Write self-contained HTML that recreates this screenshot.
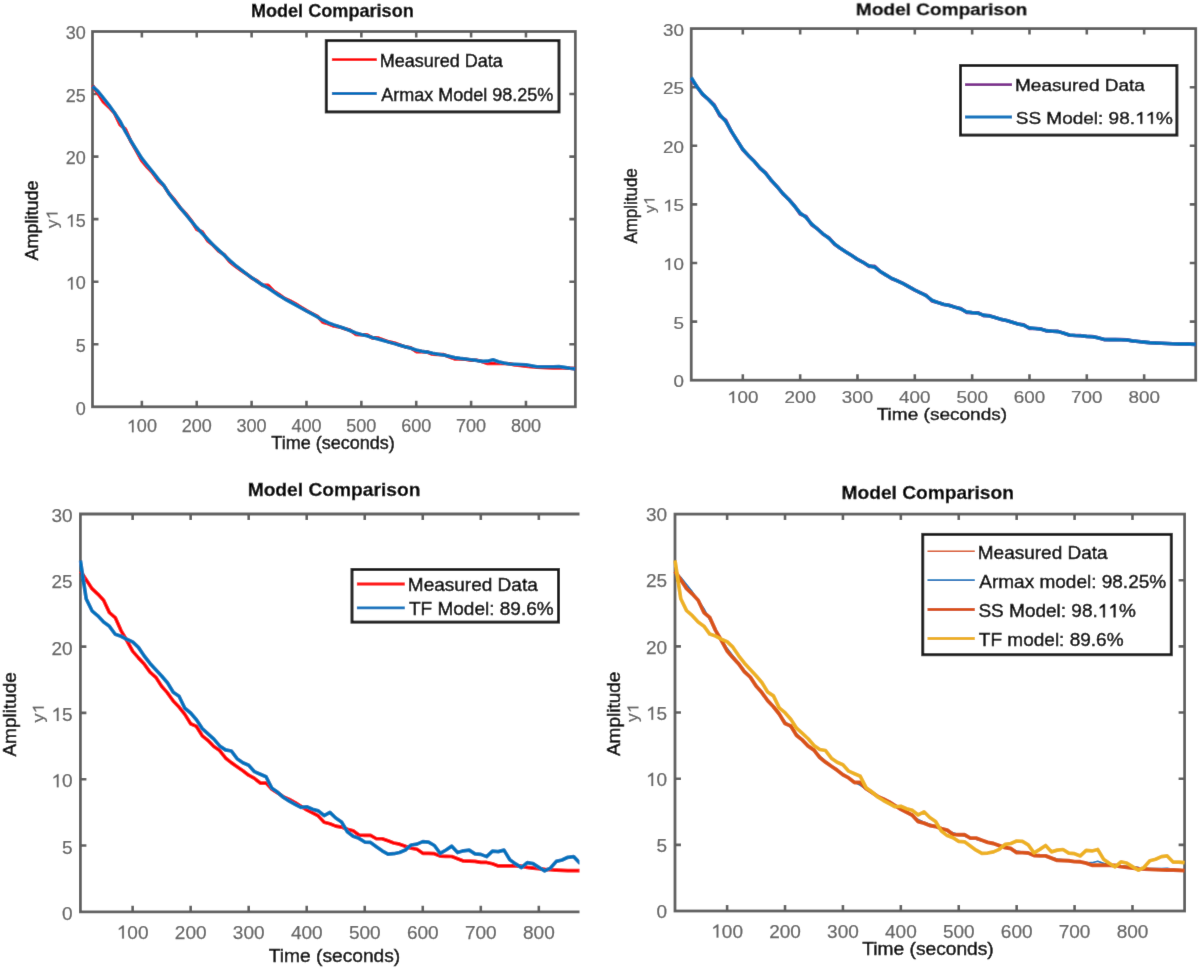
<!DOCTYPE html>
<html><head><meta charset="utf-8"><style>
html,body{margin:0;padding:0;background:#fff;}
svg{display:block;will-change:transform;}
text{font-family:"Liberation Sans",sans-serif;}
</style></head><body>
<svg width="1200" height="969" viewBox="0 0 1200 969">
<filter id="bf" x="0" y="0" width="1200" height="969" filterUnits="userSpaceOnUse"><feConvolveMatrix order="3" kernelMatrix="0.0052 0.0619 0.0052 0.0619 0.7314 0.0619 0.0052 0.0619 0.0052" edgeMode="duplicate"/></filter>
<rect width="1200" height="969" fill="#fff"/>
<g filter="url(#bf)"><rect width="1200" height="969" fill="#fff"/>
<rect x="92.49" y="31.50" width="482.86" height="375.30" fill="none" stroke="#5e5e5e" stroke-width="2.8"/>
<path d="M141.87,406.80v-6.0M141.87,31.50v6.0M196.74,406.80v-6.0M196.74,31.50v6.0M251.61,406.80v-6.0M251.61,31.50v6.0M306.48,406.80v-6.0M306.48,31.50v6.0M361.35,406.80v-6.0M361.35,31.50v6.0M416.22,406.80v-6.0M416.22,31.50v6.0M471.09,406.80v-6.0M471.09,31.50v6.0M525.96,406.80v-6.0M525.96,31.50v6.0M92.49,344.25h6.0M575.34,344.25h-6.0M92.49,281.70h6.0M575.34,281.70h-6.0M92.49,219.15h6.0M575.34,219.15h-6.0M92.49,156.60h6.0M575.34,156.60h-6.0M92.49,94.05h6.0M575.34,94.05h-6.0" stroke="#5e5e5e" stroke-width="2.6"/>
<clipPath id="ctl"><rect x="90.69" y="29.70" width="486.46" height="378.90"/></clipPath>
<g clip-path="url(#ctl)" fill="none" stroke-linejoin="round" stroke-linecap="butt">
<polyline points="92.49,85.42 97.97,93.55 103.46,101.93 108.95,107.06 114.44,112.94 119.92,124.57 125.41,129.20 130.90,141.46 136.38,150.85 141.87,160.85 147.36,167.23 152.84,173.11 158.33,180.62 163.82,185.62 169.31,194.00 174.79,200.26 180.28,207.89 185.77,213.65 191.25,220.53 196.74,229.41 202.23,231.91 207.71,240.79 213.20,245.17 218.69,250.93 224.17,254.68 229.66,261.68 235.15,266.06 240.64,269.94 246.12,273.69 251.61,277.95 257.10,280.95 262.58,285.33 268.07,285.33 273.56,291.08 279.04,294.59 284.53,298.46 290.02,300.84 295.51,303.72 300.99,307.22 306.48,310.60 311.97,313.48 317.45,316.35 322.94,322.23 328.43,323.73 333.91,325.99 339.40,326.86 344.89,328.86 350.38,330.36 355.86,334.37 361.35,334.74 366.84,334.74 372.32,337.87 377.81,337.87 383.30,339.87 388.78,341.87 394.27,343.00 399.76,345.00 405.25,346.88 410.73,347.75 416.22,351.63 421.71,351.63 427.19,352.01 432.68,354.26 438.17,354.51 443.65,354.63 449.14,356.76 454.63,358.89 460.12,359.01 465.60,359.26 471.09,360.14 476.58,360.26 482.06,361.51 487.55,363.52 493.04,363.52 498.52,363.52 504.01,363.52 509.50,363.77 514.99,364.89 520.47,365.52 525.96,366.14 531.45,366.77 536.93,367.14 542.42,367.39 547.91,367.64 553.39,367.89 558.88,368.02 564.37,368.02 569.86,368.27 575.34,368.64" stroke="#ff0000" stroke-width="3.6"/>
<polyline points="92.49,86.29 97.97,91.30 103.46,98.05 108.95,105.06 114.44,112.81 119.92,120.95 125.41,131.58 130.90,140.96 136.38,149.72 141.87,158.48 147.36,165.36 152.84,172.24 158.33,179.12 163.82,185.37 169.31,194.11 174.79,201.15 180.28,207.93 185.77,214.45 191.25,221.16 196.74,227.60 202.23,233.39 207.71,239.32 213.20,244.98 218.69,250.08 224.17,255.16 229.66,260.38 235.15,265.19 240.64,269.45 246.12,273.58 251.61,277.59 257.10,281.44 262.58,284.85 268.07,287.98 273.56,291.65 279.04,295.46 284.53,298.82 290.02,301.85 295.51,304.83 300.99,307.95 306.48,311.00 311.97,313.86 317.45,316.97 322.94,320.24 328.43,322.83 333.91,324.84 339.40,326.70 344.89,328.56 350.38,330.70 355.86,332.92 361.35,334.45 366.84,335.79 372.32,337.44 377.81,338.91 383.30,340.46 388.78,342.12 394.27,343.64 399.76,345.22 405.25,346.73 410.73,348.32 416.22,350.02 421.71,351.16 427.19,352.11 432.68,353.30 438.17,354.19 443.65,355.03 449.14,356.34 454.63,357.62 460.12,358.40 465.60,359.02 471.09,359.70 476.58,360.40 482.06,361.36 487.55,361.14 493.04,359.76 498.52,361.76 504.01,363.01 509.50,364.02 514.99,364.27 520.47,364.52 525.96,364.77 531.45,365.77 536.93,366.77 542.42,366.77 547.91,366.77 553.39,366.77 558.88,366.52 564.37,367.39 569.86,368.27 575.34,368.89" stroke="#0072bd" stroke-width="3.6"/>
</g>
<g transform="translate(141.87,432.20)"><text font-size="18" text-anchor="middle" fill="#646464" stroke="#646464" stroke-width="0.25"> 00</text><path d="M-9.89,0.00 L-9.89,-9.93 L-13.06,-8.13 L-13.06,-9.67 L-9.35,-12.38 L-8.31,-12.38 L-8.31,0.00Z" fill="#646464" stroke="#646464" stroke-width="0.25"/></g>
<g transform="translate(196.74,432.20)"><text font-size="18" text-anchor="middle" fill="#646464" stroke="#646464" stroke-width="0.25">200</text></g>
<g transform="translate(251.61,432.20)"><text font-size="18" text-anchor="middle" fill="#646464" stroke="#646464" stroke-width="0.25">300</text></g>
<g transform="translate(306.48,432.20)"><text font-size="18" text-anchor="middle" fill="#646464" stroke="#646464" stroke-width="0.25">400</text></g>
<g transform="translate(361.35,432.20)"><text font-size="18" text-anchor="middle" fill="#646464" stroke="#646464" stroke-width="0.25">500</text></g>
<g transform="translate(416.22,432.20)"><text font-size="18" text-anchor="middle" fill="#646464" stroke="#646464" stroke-width="0.25">600</text></g>
<g transform="translate(471.09,432.20)"><text font-size="18" text-anchor="middle" fill="#646464" stroke="#646464" stroke-width="0.25">700</text></g>
<g transform="translate(525.96,432.20)"><text font-size="18" text-anchor="middle" fill="#646464" stroke="#646464" stroke-width="0.25">800</text></g>
<g transform="translate(85.89,414.50)"><text font-size="18" text-anchor="end" fill="#646464" stroke="#646464" stroke-width="0.25">0</text></g>
<g transform="translate(85.89,351.95)"><text font-size="18" text-anchor="end" fill="#646464" stroke="#646464" stroke-width="0.25">5</text></g>
<g transform="translate(85.89,289.40)"><text font-size="18" text-anchor="end" fill="#646464" stroke="#646464" stroke-width="0.25"> 0</text><path d="M-14.90,0.00 L-14.90,-9.93 L-18.06,-8.13 L-18.06,-9.67 L-14.35,-12.38 L-13.32,-12.38 L-13.32,0.00Z" fill="#646464" stroke="#646464" stroke-width="0.25"/></g>
<g transform="translate(85.89,226.85)"><text font-size="18" text-anchor="end" fill="#646464" stroke="#646464" stroke-width="0.25"> 5</text><path d="M-14.90,0.00 L-14.90,-9.93 L-18.06,-8.13 L-18.06,-9.67 L-14.35,-12.38 L-13.32,-12.38 L-13.32,0.00Z" fill="#646464" stroke="#646464" stroke-width="0.25"/></g>
<g transform="translate(85.89,164.30)"><text font-size="18" text-anchor="end" fill="#646464" stroke="#646464" stroke-width="0.25">20</text></g>
<g transform="translate(85.89,101.75)"><text font-size="18" text-anchor="end" fill="#646464" stroke="#646464" stroke-width="0.25">25</text></g>
<g transform="translate(85.89,39.20)"><text font-size="18" text-anchor="end" fill="#646464" stroke="#646464" stroke-width="0.25">30</text></g>
<g transform="translate(332.30,17.20)"><text font-size="18.1" text-anchor="middle" fill="#000" stroke="#000" stroke-width="0.3" font-weight="bold">Model Comparison</text></g>
<g transform="translate(333.00,449.20)"><text font-size="18" text-anchor="middle" fill="#000000" stroke="#000000" stroke-width="0.45">Time (seconds)</text></g>
<g transform="translate(38.00,220.50) rotate(-90)"><text font-size="18" text-anchor="middle" fill="#000000" stroke="#000000" stroke-width="0.45">Amplitude</text></g>
<g transform="translate(57.50,218.90) rotate(-90) scale(1,0.9000)"><text font-size="17.8" text-anchor="middle" fill="#646464" stroke="#646464" stroke-width="0.25">y </text><path d="M4.57,0.00 L4.57,-9.82 L1.44,-8.04 L1.44,-9.56 L5.11,-12.25 L6.13,-12.25 L6.13,0.00Z" fill="#646464" stroke="#646464" stroke-width="0.25"/></g>
<rect x="326.30" y="40.60" width="232.70" height="71.30" fill="#fff" stroke="#1e1e1e" stroke-width="3.0"/>
<line x1="331.9" x2="376.8" y1="59.7" y2="59.7" stroke="#ff0000" stroke-width="2.8"/>
<g transform="translate(379.82,67.30)"><text font-size="18" text-anchor="start" fill="#000" stroke="#000" stroke-width="0.45">Measured Data</text></g>
<line x1="331.9" x2="376.8" y1="93.5" y2="93.5" stroke="#0072bd" stroke-width="2.8"/>
<g transform="translate(381.26,101.10)"><text font-size="18" text-anchor="start" fill="#000" stroke="#000" stroke-width="0.45">Armax Model 98.25%</text></g>
<rect x="691.23" y="28.60" width="504.50" height="351.60" fill="none" stroke="#5e5e5e" stroke-width="2.8"/>
<path d="M742.83,380.20v-6.0M742.83,28.60v6.0M800.16,380.20v-6.0M800.16,28.60v6.0M857.49,380.20v-6.0M857.49,28.60v6.0M914.82,380.20v-6.0M914.82,28.60v6.0M972.15,380.20v-6.0M972.15,28.60v6.0M1029.48,380.20v-6.0M1029.48,28.60v6.0M1086.81,380.20v-6.0M1086.81,28.60v6.0M1144.14,380.20v-6.0M1144.14,28.60v6.0M691.23,321.60h6.0M1195.74,321.60h-6.0M691.23,263.00h6.0M1195.74,263.00h-6.0M691.23,204.40h6.0M1195.74,204.40h-6.0M691.23,145.80h6.0M1195.74,145.80h-6.0M691.23,87.20h6.0M1195.74,87.20h-6.0" stroke="#5e5e5e" stroke-width="2.6"/>
<clipPath id="ctr"><rect x="689.43" y="26.80" width="508.10" height="355.20"/></clipPath>
<g clip-path="url(#ctr)" fill="none" stroke-linejoin="round" stroke-linecap="butt">
<polyline points="691.23,79.11 696.97,86.73 702.70,94.58 708.43,99.39 714.16,104.90 719.90,115.80 725.63,120.13 731.36,131.62 737.10,140.41 742.83,149.78 748.56,155.76 754.30,161.27 760.03,168.30 765.76,172.99 771.50,180.84 777.23,186.70 782.96,193.85 788.69,199.24 794.43,205.69 800.16,214.01 805.89,216.35 811.63,224.68 817.36,228.78 823.09,234.17 828.83,237.68 834.56,244.25 840.29,248.35 846.02,251.98 851.76,255.50 857.49,259.48 863.22,262.30 868.96,266.40 874.69,266.40 880.42,271.79 886.15,275.07 891.89,278.70 897.62,280.93 903.35,283.63 909.09,286.91 914.82,290.07 920.55,292.77 926.29,295.46 932.02,300.97 937.75,302.38 943.49,304.49 949.22,305.31 954.95,307.18 960.68,308.59 966.42,312.34 972.15,312.69 977.88,312.69 983.62,315.62 989.35,315.62 995.08,317.50 1000.82,319.37 1006.55,320.43 1012.28,322.30 1018.01,324.06 1023.75,324.88 1029.48,328.51 1035.21,328.51 1040.95,328.87 1046.68,330.98 1052.41,331.21 1058.14,331.33 1063.88,333.32 1069.61,335.31 1075.34,335.43 1081.08,335.66 1086.81,336.48 1092.54,336.60 1098.28,337.77 1104.01,339.65 1109.74,339.65 1115.47,339.65 1121.21,339.65 1126.94,339.88 1132.67,340.94 1138.41,341.52 1144.14,342.11 1149.87,342.70 1155.61,343.05 1161.34,343.28 1167.07,343.52 1172.81,343.75 1178.54,343.87 1184.27,343.87 1190.00,344.10 1195.74,344.45" stroke="#7e2f8e" stroke-width="3.6"/>
<polyline points="691.23,77.47 696.97,86.77 702.70,94.08 708.43,99.51 714.16,105.80 719.90,114.70 725.63,121.32 731.36,131.17 737.10,140.51 742.83,149.22 748.56,155.68 754.30,161.52 760.03,167.91 765.76,173.52 771.50,180.51 777.23,186.92 782.96,193.56 788.69,199.42 794.43,206.00 800.16,213.01 805.89,217.35 811.63,223.97 817.36,228.99 823.09,233.86 828.83,238.19 834.56,243.84 840.29,248.27 846.02,251.96 851.76,255.58 857.49,259.29 863.22,262.51 868.96,265.72 874.69,267.30 880.42,271.44 886.15,275.13 891.89,278.47 897.62,281.01 903.35,283.72 909.09,286.89 914.82,290.00 920.55,292.77 926.29,295.93 932.02,300.29 937.75,302.50 943.49,304.27 949.22,305.49 954.95,307.11 960.68,308.98 966.42,311.77 972.15,312.63 977.88,313.18 983.62,315.13 989.35,315.94 995.08,317.50 1000.82,319.24 1006.55,320.56 1012.28,322.28 1018.01,323.90 1023.75,325.35 1029.48,327.91 1035.21,328.57 1040.95,329.16 1046.68,330.66 1052.41,331.19 1058.14,331.64 1063.88,333.32 1069.61,335.00 1075.34,335.45 1081.08,335.76 1086.81,336.37 1092.54,336.78 1098.28,337.89 1104.01,339.34 1109.74,339.65 1115.47,339.65 1121.21,339.69 1126.94,340.02 1132.67,340.86 1138.41,341.52 1144.14,342.11 1149.87,342.66 1155.61,343.03 1161.34,343.28 1167.07,343.52 1172.81,343.73 1178.54,343.85 1184.27,343.91 1190.00,344.12 1195.74,344.38" stroke="#0072bd" stroke-width="3.6"/>
</g>
<g transform="translate(742.83,403.00) scale(1,0.9000)"><text font-size="18.85" text-anchor="middle" fill="#646464" stroke="#646464" stroke-width="0.25"> 00</text><path d="M-10.36,0.00 L-10.36,-10.40 L-13.67,-8.51 L-13.67,-10.12 L-9.79,-12.97 L-8.70,-12.97 L-8.70,0.00Z" fill="#646464" stroke="#646464" stroke-width="0.25"/></g>
<g transform="translate(800.16,403.00) scale(1,0.9000)"><text font-size="18.85" text-anchor="middle" fill="#646464" stroke="#646464" stroke-width="0.25">200</text></g>
<g transform="translate(857.49,403.00) scale(1,0.9000)"><text font-size="18.85" text-anchor="middle" fill="#646464" stroke="#646464" stroke-width="0.25">300</text></g>
<g transform="translate(914.82,403.00) scale(1,0.9000)"><text font-size="18.85" text-anchor="middle" fill="#646464" stroke="#646464" stroke-width="0.25">400</text></g>
<g transform="translate(972.15,403.00) scale(1,0.9000)"><text font-size="18.85" text-anchor="middle" fill="#646464" stroke="#646464" stroke-width="0.25">500</text></g>
<g transform="translate(1029.48,403.00) scale(1,0.9000)"><text font-size="18.85" text-anchor="middle" fill="#646464" stroke="#646464" stroke-width="0.25">600</text></g>
<g transform="translate(1086.81,403.00) scale(1,0.9000)"><text font-size="18.85" text-anchor="middle" fill="#646464" stroke="#646464" stroke-width="0.25">700</text></g>
<g transform="translate(1144.14,403.00) scale(1,0.9000)"><text font-size="18.85" text-anchor="middle" fill="#646464" stroke="#646464" stroke-width="0.25">800</text></g>
<g transform="translate(684.03,387.20) scale(1,0.9000)"><text font-size="18.85" text-anchor="end" fill="#646464" stroke="#646464" stroke-width="0.25">0</text></g>
<g transform="translate(684.03,328.60) scale(1,0.9000)"><text font-size="18.85" text-anchor="end" fill="#646464" stroke="#646464" stroke-width="0.25">5</text></g>
<g transform="translate(684.03,270.00) scale(1,0.9000)"><text font-size="18.85" text-anchor="end" fill="#646464" stroke="#646464" stroke-width="0.25"> 0</text><path d="M-15.60,0.00 L-15.60,-10.40 L-18.91,-8.51 L-18.91,-10.12 L-15.03,-12.97 L-13.94,-12.97 L-13.94,0.00Z" fill="#646464" stroke="#646464" stroke-width="0.25"/></g>
<g transform="translate(684.03,211.40) scale(1,0.9000)"><text font-size="18.85" text-anchor="end" fill="#646464" stroke="#646464" stroke-width="0.25"> 5</text><path d="M-15.60,0.00 L-15.60,-10.40 L-18.91,-8.51 L-18.91,-10.12 L-15.03,-12.97 L-13.94,-12.97 L-13.94,0.00Z" fill="#646464" stroke="#646464" stroke-width="0.25"/></g>
<g transform="translate(684.03,152.80) scale(1,0.9000)"><text font-size="18.85" text-anchor="end" fill="#646464" stroke="#646464" stroke-width="0.25">20</text></g>
<g transform="translate(684.03,94.20) scale(1,0.9000)"><text font-size="18.85" text-anchor="end" fill="#646464" stroke="#646464" stroke-width="0.25">25</text></g>
<g transform="translate(684.03,35.60) scale(1,0.9000)"><text font-size="18.85" text-anchor="end" fill="#646464" stroke="#646464" stroke-width="0.25">30</text></g>
<g transform="translate(941.60,15.20) scale(1,0.9000)"><text font-size="19.05" text-anchor="middle" fill="#000" stroke="#000" stroke-width="0.3" font-weight="bold">Model Comparison</text></g>
<g transform="translate(941.90,419.60) scale(1,0.9000)"><text font-size="19.05" text-anchor="middle" fill="#000000" stroke="#000000" stroke-width="0.45">Time (seconds)</text></g>
<g transform="translate(636.70,205.90) rotate(-90) scale(0.9000,1)"><text font-size="18.85" text-anchor="middle" fill="#000000" stroke="#000000" stroke-width="0.45">Amplitude</text></g>
<g transform="translate(654.50,204.60) rotate(-90) scale(0.9000,1) scale(1,0.8600)"><text font-size="17.7" text-anchor="middle" fill="#646464" stroke="#646464" stroke-width="0.25">y </text><path d="M4.54,0.00 L4.54,-9.77 L1.43,-7.99 L1.43,-9.51 L5.08,-12.18 L6.10,-12.18 L6.10,0.00Z" fill="#646464" stroke="#646464" stroke-width="0.25"/></g>
<rect x="960.50" y="65.50" width="216.40" height="69.60" fill="#fff" stroke="#1e1e1e" stroke-width="3.0"/>
<line x1="965" x2="1012" y1="84.6" y2="84.6" stroke="#7e2f8e" stroke-width="2.8"/>
<g transform="translate(1015.04,91.40) scale(1,0.9000)"><text font-size="19" text-anchor="start" fill="#000" stroke="#000" stroke-width="0.45">Measured Data</text></g>
<line x1="965" x2="1012" y1="117.0" y2="117.0" stroke="#0072bd" stroke-width="2.8"/>
<g transform="translate(1015.74,123.80) scale(1,0.9000)"><text font-size="19" text-anchor="start" fill="#000" stroke="#000" stroke-width="0.45">SS Model: 98.  %</text><path d="M124.75,0.00 L124.75,-10.48 L121.41,-8.58 L121.41,-10.21 L125.33,-13.07 L126.42,-13.07 L126.42,0.00ZM135.32,0.00 L135.32,-10.48 L131.98,-8.58 L131.98,-10.21 L135.89,-13.07 L136.99,-13.07 L136.99,0.00Z" fill="#000" stroke="#000" stroke-width="0.45"/></g>
<path d="M579.50,514.00 H80.40 V911.80 H579.50" fill="none" stroke="#5e5e5e" stroke-width="2.8" stroke-linejoin="miter" stroke-linecap="butt"/>
<path d="M132.63,911.80v-6.0M132.63,514.00v6.0M190.66,911.80v-6.0M190.66,514.00v6.0M248.69,911.80v-6.0M248.69,514.00v6.0M306.72,911.80v-6.0M306.72,514.00v6.0M364.75,911.80v-6.0M364.75,514.00v6.0M422.78,911.80v-6.0M422.78,514.00v6.0M480.81,911.80v-6.0M480.81,514.00v6.0M538.84,911.80v-6.0M538.84,514.00v6.0M80.40,845.50h6.0M80.40,779.20h6.0M80.40,712.90h6.0M80.40,646.60h6.0M80.40,580.30h6.0" stroke="#5e5e5e" stroke-width="2.6"/>
<clipPath id="cbl"><rect x="78.60" y="512.20" width="500.90" height="401.40"/></clipPath>
<g clip-path="url(#cbl)" fill="none" stroke-linejoin="round" stroke-linecap="butt">
<polyline points="80.40,571.15 86.21,579.77 92.01,588.65 97.81,594.09 103.61,600.32 109.42,612.65 115.22,617.56 121.02,630.56 126.83,640.50 132.63,651.11 138.43,657.87 144.24,664.10 150.04,672.06 155.84,677.36 161.64,686.25 167.45,692.88 173.25,700.97 179.05,707.07 184.86,714.36 190.66,723.77 196.46,726.43 202.27,735.84 208.07,740.48 213.87,746.58 219.68,750.56 225.48,757.98 231.28,762.62 237.08,766.74 242.89,770.71 248.69,775.22 254.49,778.40 260.30,783.05 266.10,783.05 271.90,789.14 277.71,792.86 283.51,796.97 289.31,799.49 295.11,802.54 300.92,806.25 306.72,809.83 312.52,812.88 318.33,815.93 324.13,822.16 329.93,823.75 335.74,826.14 341.54,827.07 347.34,829.19 353.14,830.78 358.95,835.02 364.75,835.42 370.55,835.42 376.36,838.74 382.16,838.74 387.96,840.86 393.76,842.98 399.57,844.17 405.37,846.30 411.17,848.28 416.98,849.21 422.78,853.32 428.58,853.32 434.39,853.72 440.19,856.11 445.99,856.37 451.80,856.51 457.60,858.76 463.40,861.01 469.20,861.15 475.01,861.41 480.81,862.34 486.61,862.47 492.42,863.80 498.22,865.92 504.02,865.92 509.83,865.92 515.63,865.92 521.43,866.19 527.23,867.38 533.04,868.04 538.84,868.70 544.64,869.37 550.45,869.77 556.25,870.03 562.05,870.30 567.86,870.56 573.66,870.69 579.46,870.69 585.26,870.96 591.07,871.36" stroke="#ff0000" stroke-width="3.7"/>
<polyline points="80.40,560.41 86.21,598.86 92.01,610.80 97.81,615.84 103.61,622.07 109.42,626.31 115.22,634.27 121.02,636.26 126.83,639.31 132.63,641.83 138.43,647.40 144.24,656.01 150.04,663.44 155.84,669.80 161.64,676.04 167.45,682.80 173.25,692.21 179.05,696.19 184.86,708.26 190.66,713.03 196.46,719.66 202.27,728.55 208.07,733.85 213.87,739.15 219.68,745.92 225.48,749.90 231.28,750.96 237.08,758.65 242.89,762.76 248.69,765.28 254.49,771.64 260.30,774.29 266.10,776.81 271.90,788.22 277.71,792.33 283.51,797.50 289.31,801.08 295.11,804.26 300.92,807.31 306.72,806.78 312.52,809.30 318.33,810.89 324.13,815.53 329.93,812.35 335.74,818.05 341.54,822.03 347.34,831.71 353.14,836.22 358.95,838.34 364.75,842.05 370.55,842.45 376.36,846.69 382.16,850.80 387.96,854.12 393.76,853.72 399.57,852.53 405.37,850.01 411.17,844.97 416.98,844.17 422.78,841.65 428.58,842.05 434.39,845.50 440.19,853.46 445.99,850.01 451.80,846.16 457.60,852.53 463.40,850.80 469.20,850.14 475.01,853.85 480.81,854.38 486.61,856.64 492.42,851.07 498.22,851.60 504.02,850.14 509.83,859.82 515.63,863.93 521.43,867.64 527.23,862.61 533.04,863.67 538.84,867.38 544.64,870.96 550.45,868.04 556.25,861.41 562.05,859.95 567.86,857.30 573.66,856.64 579.46,862.74 585.26,862.74 591.07,863.40" stroke="#0072bd" stroke-width="3.7"/>
</g>
<g transform="translate(132.63,938.60)"><text font-size="19" text-anchor="middle" fill="#646464" stroke="#646464" stroke-width="0.25"> 00</text><path d="M-10.44,0.00 L-10.44,-10.48 L-13.78,-8.58 L-13.78,-10.21 L-9.87,-13.07 L-8.77,-13.07 L-8.77,0.00Z" fill="#646464" stroke="#646464" stroke-width="0.25"/></g>
<g transform="translate(190.66,938.60)"><text font-size="19" text-anchor="middle" fill="#646464" stroke="#646464" stroke-width="0.25">200</text></g>
<g transform="translate(248.69,938.60)"><text font-size="19" text-anchor="middle" fill="#646464" stroke="#646464" stroke-width="0.25">300</text></g>
<g transform="translate(306.72,938.60)"><text font-size="19" text-anchor="middle" fill="#646464" stroke="#646464" stroke-width="0.25">400</text></g>
<g transform="translate(364.75,938.60)"><text font-size="19" text-anchor="middle" fill="#646464" stroke="#646464" stroke-width="0.25">500</text></g>
<g transform="translate(422.78,938.60)"><text font-size="19" text-anchor="middle" fill="#646464" stroke="#646464" stroke-width="0.25">600</text></g>
<g transform="translate(480.81,938.60)"><text font-size="19" text-anchor="middle" fill="#646464" stroke="#646464" stroke-width="0.25">700</text></g>
<g transform="translate(538.84,938.60)"><text font-size="19" text-anchor="middle" fill="#646464" stroke="#646464" stroke-width="0.25">800</text></g>
<g transform="translate(72.60,919.80)"><text font-size="19" text-anchor="end" fill="#646464" stroke="#646464" stroke-width="0.25">0</text></g>
<g transform="translate(72.60,853.50)"><text font-size="19" text-anchor="end" fill="#646464" stroke="#646464" stroke-width="0.25">5</text></g>
<g transform="translate(72.60,787.20)"><text font-size="19" text-anchor="end" fill="#646464" stroke="#646464" stroke-width="0.25"> 0</text><path d="M-15.73,0.00 L-15.73,-10.48 L-19.06,-8.58 L-19.06,-10.21 L-15.15,-13.07 L-14.06,-13.07 L-14.06,0.00Z" fill="#646464" stroke="#646464" stroke-width="0.25"/></g>
<g transform="translate(72.60,720.90)"><text font-size="19" text-anchor="end" fill="#646464" stroke="#646464" stroke-width="0.25"> 5</text><path d="M-15.73,0.00 L-15.73,-10.48 L-19.06,-8.58 L-19.06,-10.21 L-15.15,-13.07 L-14.06,-13.07 L-14.06,0.00Z" fill="#646464" stroke="#646464" stroke-width="0.25"/></g>
<g transform="translate(72.60,654.60)"><text font-size="19" text-anchor="end" fill="#646464" stroke="#646464" stroke-width="0.25">20</text></g>
<g transform="translate(72.60,588.30)"><text font-size="19" text-anchor="end" fill="#646464" stroke="#646464" stroke-width="0.25">25</text></g>
<g transform="translate(72.60,522.00)"><text font-size="19" text-anchor="end" fill="#646464" stroke="#646464" stroke-width="0.25">30</text></g>
<g transform="translate(334.00,496.30)"><text font-size="19.2" text-anchor="middle" fill="#000" stroke="#000" stroke-width="0.3" font-weight="bold">Model Comparison</text></g>
<g transform="translate(334.50,961.50)"><text font-size="19.2" text-anchor="middle" fill="#000000" stroke="#000000" stroke-width="0.45">Time (seconds)</text></g>
<g transform="translate(16.00,714.30) rotate(-90)"><text font-size="19" text-anchor="middle" fill="#000000" stroke="#000000" stroke-width="0.45">Amplitude</text></g>
<g transform="translate(43.80,712.90) rotate(-90) scale(1,0.8900)"><text font-size="18" text-anchor="middle" fill="#646464" stroke="#646464" stroke-width="0.25">y </text><path d="M4.62,0.00 L4.62,-9.93 L1.45,-8.13 L1.45,-9.67 L5.16,-12.38 L6.20,-12.38 L6.20,0.00Z" fill="#646464" stroke="#646464" stroke-width="0.25"/></g>
<rect x="352.00" y="569.50" width="206.50" height="52.60" fill="#fff" stroke="#1e1e1e" stroke-width="3.0"/>
<line x1="356.9" x2="404.8" y1="584.0" y2="584.0" stroke="#ff0000" stroke-width="2.9"/>
<g transform="translate(407.84,591.20)"><text font-size="19" text-anchor="start" fill="#000" stroke="#000" stroke-width="0.45">Measured Data</text></g>
<line x1="356.9" x2="404.8" y1="607.9" y2="607.9" stroke="#0072bd" stroke-width="2.9"/>
<g transform="translate(408.97,615.10)"><text font-size="19" text-anchor="start" fill="#000" stroke="#000" stroke-width="0.45">TF Model: 89.6%</text></g>
<rect x="674.99" y="514.10" width="509.61" height="396.90" fill="none" stroke="#5e5e5e" stroke-width="2.8"/>
<path d="M727.11,911.00v-6.0M727.11,514.10v6.0M785.02,911.00v-6.0M785.02,514.10v6.0M842.93,911.00v-6.0M842.93,514.10v6.0M900.84,911.00v-6.0M900.84,514.10v6.0M958.75,911.00v-6.0M958.75,514.10v6.0M1016.66,911.00v-6.0M1016.66,514.10v6.0M1074.57,911.00v-6.0M1074.57,514.10v6.0M1132.48,911.00v-6.0M1132.48,514.10v6.0M674.99,844.85h6.0M1184.60,844.85h-6.0M674.99,778.70h6.0M1184.60,778.70h-6.0M674.99,712.55h6.0M1184.60,712.55h-6.0M674.99,646.40h6.0M1184.60,646.40h-6.0M674.99,580.25h6.0M1184.60,580.25h-6.0" stroke="#5e5e5e" stroke-width="2.6"/>
<clipPath id="cbr"><rect x="673.19" y="512.30" width="513.21" height="400.50"/></clipPath>
<g clip-path="url(#cbr)" fill="none" stroke-linejoin="round" stroke-linecap="butt">
<polyline points="674.99,569.27 680.78,579.76 686.57,588.01 692.36,594.14 698.16,601.24 703.95,611.30 709.74,618.77 715.53,629.88 721.32,640.42 727.11,650.26 732.90,657.56 738.69,664.15 744.48,671.36 750.27,677.69 756.07,685.58 761.86,692.82 767.65,700.31 773.44,706.93 779.23,714.36 785.02,722.27 790.81,727.17 796.60,734.64 802.39,740.31 808.18,745.80 813.98,750.70 819.77,757.07 825.56,762.07 831.35,766.24 837.14,770.32 842.93,774.51 848.72,778.15 854.51,781.76 860.30,783.55 866.09,788.23 871.88,792.39 877.68,796.16 883.47,799.03 889.26,802.10 895.05,805.67 900.84,809.17 906.63,812.30 912.42,815.88 918.21,820.79 924.00,823.29 929.80,825.29 935.59,826.66 941.38,828.49 947.17,830.61 952.96,833.76 958.75,834.73 964.54,835.35 970.33,837.55 976.12,838.46 981.91,840.22 987.71,842.18 993.50,843.68 999.29,845.62 1005.08,847.45 1010.87,849.08 1016.66,851.97 1022.45,852.72 1028.24,853.38 1034.03,855.08 1039.82,855.68 1045.62,856.18 1051.41,858.08 1057.20,859.98 1062.99,860.48 1068.78,860.84 1074.57,861.52 1080.36,861.98 1086.15,863.24 1091.94,864.87 1097.73,865.22 1103.53,865.22 1109.32,865.27 1115.11,865.64 1120.90,866.59 1126.69,867.34 1132.48,868.00 1138.27,868.62 1144.06,869.04 1149.85,869.33 1155.64,869.59 1161.43,869.83 1167.23,869.96 1173.02,870.03 1178.81,870.27 1184.60,870.57" stroke="#d95319" stroke-width="1.3"/>
<polyline points="674.99,572.05 680.78,577.34 686.57,584.48 692.36,591.89 698.16,600.10 703.95,608.69 709.74,619.94 715.53,629.86 721.32,639.12 727.11,648.38 732.90,655.66 738.69,662.94 744.48,670.21 750.27,676.83 756.07,686.07 761.86,693.52 767.65,700.69 773.44,707.58 779.23,714.67 785.02,721.49 790.81,727.61 796.60,733.88 802.39,739.87 808.18,745.26 813.98,750.63 819.77,756.15 825.56,761.24 831.35,765.74 837.14,770.12 842.93,774.36 848.72,778.43 854.51,782.03 860.30,785.35 866.09,789.23 871.88,793.25 877.68,796.80 883.47,800.01 889.26,803.16 895.05,806.46 900.84,809.69 906.63,812.71 912.42,816.00 918.21,819.46 924.00,822.20 929.80,824.33 935.59,826.29 941.38,828.26 947.17,830.52 952.96,832.87 958.75,834.49 964.54,835.91 970.33,837.65 976.12,839.21 981.91,840.85 987.71,842.60 993.50,844.20 999.29,845.88 1005.08,847.47 1010.87,849.15 1016.66,850.96 1022.45,852.15 1028.24,853.16 1034.03,854.42 1039.82,855.37 1045.62,856.25 1051.41,857.63 1057.20,858.99 1062.99,859.81 1068.78,860.47 1074.57,861.19 1080.36,861.93 1086.15,862.95 1091.94,862.71 1097.73,861.26 1103.53,863.37 1109.32,864.70 1115.11,865.75 1120.90,866.02 1126.69,866.28 1132.48,866.55 1138.27,867.61 1144.06,868.66 1149.85,868.66 1155.64,868.66 1161.43,868.66 1167.23,868.40 1173.02,869.33 1178.81,870.25 1184.60,870.91" stroke="#0072bd" stroke-width="1.7"/>
<polyline points="674.99,571.12 680.78,579.72 686.57,588.58 692.36,594.01 698.16,600.23 703.95,612.53 709.74,617.43 715.53,630.39 721.32,640.31 727.11,650.90 732.90,657.65 738.69,663.86 744.48,671.80 750.27,677.09 756.07,685.96 761.86,692.57 767.65,700.64 773.44,706.73 779.23,714.01 785.02,723.40 790.81,726.04 796.60,735.44 802.39,740.07 808.18,746.15 813.98,750.12 819.77,757.53 825.56,762.16 831.35,766.26 837.14,770.23 842.93,774.73 848.72,777.91 854.51,782.54 860.30,782.54 866.09,788.62 871.88,792.33 877.68,796.43 883.47,798.94 889.26,801.98 895.05,805.69 900.84,809.26 906.63,812.30 912.42,815.35 918.21,821.57 924.00,823.15 929.80,825.53 935.59,826.46 941.38,828.58 947.17,830.16 952.96,834.40 958.75,834.80 964.54,834.80 970.33,838.10 976.12,838.10 981.91,840.22 987.71,842.34 993.50,843.53 999.29,845.64 1005.08,847.63 1010.87,848.55 1016.66,852.66 1022.45,852.66 1028.24,853.05 1034.03,855.43 1039.82,855.70 1045.62,855.83 1051.41,858.08 1057.20,860.33 1062.99,860.46 1068.78,860.73 1074.57,861.65 1080.36,861.78 1086.15,863.11 1091.94,865.22 1097.73,865.22 1103.53,865.22 1109.32,865.22 1115.11,865.49 1120.90,866.68 1126.69,867.34 1132.48,868.00 1138.27,868.66 1144.06,869.06 1149.85,869.33 1155.64,869.59 1161.43,869.85 1167.23,869.99 1173.02,869.99 1178.81,870.25 1184.60,870.65" stroke="#d95319" stroke-width="3.9"/>
<polyline points="674.99,560.40 680.78,598.77 686.57,610.68 692.36,615.71 698.16,621.92 703.95,626.16 709.74,634.10 715.53,636.08 721.32,639.12 727.11,641.64 732.90,647.19 738.69,655.79 744.48,663.20 750.27,669.55 756.07,675.77 761.86,682.52 767.65,691.91 773.44,695.88 779.23,707.92 785.02,712.68 790.81,719.30 796.60,728.16 802.39,733.45 808.18,738.75 813.98,745.49 819.77,749.46 825.56,750.52 831.35,758.19 837.14,762.29 842.93,764.81 848.72,771.16 854.51,773.80 860.30,776.32 866.09,787.70 871.88,791.80 877.68,796.96 883.47,800.53 889.26,803.70 895.05,806.75 900.84,806.22 906.63,808.73 912.42,810.32 918.21,814.95 924.00,811.77 929.80,817.46 935.59,821.43 941.38,831.09 947.17,835.59 952.96,837.71 958.75,841.41 964.54,841.81 970.33,846.04 976.12,850.14 981.91,853.45 987.71,853.05 993.50,851.86 999.29,849.35 1005.08,844.32 1010.87,843.53 1016.66,841.01 1022.45,841.41 1028.24,844.85 1034.03,852.79 1039.82,849.35 1045.62,845.51 1051.41,851.86 1057.20,850.14 1062.99,849.48 1068.78,853.18 1074.57,853.71 1080.36,855.96 1086.15,850.41 1091.94,850.94 1097.73,849.48 1103.53,859.14 1109.32,863.24 1115.11,866.94 1120.90,861.92 1126.69,862.98 1132.48,866.68 1138.27,870.25 1144.06,867.34 1149.85,860.73 1155.64,859.27 1161.43,856.62 1167.23,855.96 1173.02,862.05 1178.81,862.05 1184.60,862.71" stroke="#edb120" stroke-width="3.7"/>
</g>
<g transform="translate(727.11,937.50)"><text font-size="19" text-anchor="middle" fill="#646464" stroke="#646464" stroke-width="0.25"> 00</text><path d="M-10.44,0.00 L-10.44,-10.48 L-13.78,-8.58 L-13.78,-10.21 L-9.87,-13.07 L-8.77,-13.07 L-8.77,0.00Z" fill="#646464" stroke="#646464" stroke-width="0.25"/></g>
<g transform="translate(785.02,937.50)"><text font-size="19" text-anchor="middle" fill="#646464" stroke="#646464" stroke-width="0.25">200</text></g>
<g transform="translate(842.93,937.50)"><text font-size="19" text-anchor="middle" fill="#646464" stroke="#646464" stroke-width="0.25">300</text></g>
<g transform="translate(900.84,937.50)"><text font-size="19" text-anchor="middle" fill="#646464" stroke="#646464" stroke-width="0.25">400</text></g>
<g transform="translate(958.75,937.50)"><text font-size="19" text-anchor="middle" fill="#646464" stroke="#646464" stroke-width="0.25">500</text></g>
<g transform="translate(1016.66,937.50)"><text font-size="19" text-anchor="middle" fill="#646464" stroke="#646464" stroke-width="0.25">600</text></g>
<g transform="translate(1074.57,937.50)"><text font-size="19" text-anchor="middle" fill="#646464" stroke="#646464" stroke-width="0.25">700</text></g>
<g transform="translate(1132.48,937.50)"><text font-size="19" text-anchor="middle" fill="#646464" stroke="#646464" stroke-width="0.25">800</text></g>
<g transform="translate(667.19,918.20)"><text font-size="19" text-anchor="end" fill="#646464" stroke="#646464" stroke-width="0.25">0</text></g>
<g transform="translate(667.19,852.05)"><text font-size="19" text-anchor="end" fill="#646464" stroke="#646464" stroke-width="0.25">5</text></g>
<g transform="translate(667.19,785.90)"><text font-size="19" text-anchor="end" fill="#646464" stroke="#646464" stroke-width="0.25"> 0</text><path d="M-15.73,0.00 L-15.73,-10.48 L-19.06,-8.58 L-19.06,-10.21 L-15.15,-13.07 L-14.06,-13.07 L-14.06,0.00Z" fill="#646464" stroke="#646464" stroke-width="0.25"/></g>
<g transform="translate(667.19,719.75)"><text font-size="19" text-anchor="end" fill="#646464" stroke="#646464" stroke-width="0.25"> 5</text><path d="M-15.73,0.00 L-15.73,-10.48 L-19.06,-8.58 L-19.06,-10.21 L-15.15,-13.07 L-14.06,-13.07 L-14.06,0.00Z" fill="#646464" stroke="#646464" stroke-width="0.25"/></g>
<g transform="translate(667.19,653.60)"><text font-size="19" text-anchor="end" fill="#646464" stroke="#646464" stroke-width="0.25">20</text></g>
<g transform="translate(667.19,587.45)"><text font-size="19" text-anchor="end" fill="#646464" stroke="#646464" stroke-width="0.25">25</text></g>
<g transform="translate(667.19,521.30)"><text font-size="19" text-anchor="end" fill="#646464" stroke="#646464" stroke-width="0.25">30</text></g>
<g transform="translate(927.70,498.50)"><text font-size="19.15" text-anchor="middle" fill="#000" stroke="#000" stroke-width="0.3" font-weight="bold">Model Comparison</text></g>
<g transform="translate(928.00,955.40)"><text font-size="19.2" text-anchor="middle" fill="#000000" stroke="#000000" stroke-width="0.45">Time (seconds)</text></g>
<g transform="translate(620.00,713.80) rotate(-90)"><text font-size="19" text-anchor="middle" fill="#000000" stroke="#000000" stroke-width="0.45">Amplitude</text></g>
<g transform="translate(638.40,712.70) rotate(-90) scale(1,0.9200)"><text font-size="17.4" text-anchor="middle" fill="#646464" stroke="#646464" stroke-width="0.25">y </text><path d="M4.46,0.00 L4.46,-9.60 L1.41,-7.86 L1.41,-9.35 L4.99,-11.97 L5.99,-11.97 L5.99,0.00Z" fill="#646464" stroke="#646464" stroke-width="0.25"/></g>
<rect x="922.75" y="534.40" width="248.55" height="120.30" fill="#fff" stroke="#1e1e1e" stroke-width="3.0"/>
<line x1="927.5" x2="974.8" y1="551.3" y2="551.3" stroke="#d95319" stroke-width="1.6"/>
<g transform="translate(977.74,558.75)"><text font-size="19" text-anchor="start" fill="#000" stroke="#000" stroke-width="0.45">Measured Data</text></g>
<line x1="927.5" x2="974.8" y1="580.1" y2="580.1" stroke="#0072bd" stroke-width="1.6"/>
<g transform="translate(979.26,587.95)"><text font-size="19" text-anchor="start" fill="#000" stroke="#000" stroke-width="0.45">Armax model: 98.25%</text></g>
<line x1="927.5" x2="974.8" y1="609.4" y2="609.4" stroke="#d95319" stroke-width="3.0"/>
<g transform="translate(978.44,617.15)"><text font-size="19" text-anchor="start" fill="#000" stroke="#000" stroke-width="0.45">SS Model: 98.  %</text><path d="M124.75,0.00 L124.75,-10.48 L121.41,-8.58 L121.41,-10.21 L125.33,-13.07 L126.42,-13.07 L126.42,0.00ZM135.32,0.00 L135.32,-10.48 L131.98,-8.58 L131.98,-10.21 L135.89,-13.07 L136.99,-13.07 L136.99,0.00Z" fill="#000" stroke="#000" stroke-width="0.45"/></g>
<line x1="927.5" x2="974.8" y1="638.6" y2="638.6" stroke="#edb120" stroke-width="3.0"/>
<g transform="translate(978.87,646.35)"><text font-size="19" text-anchor="start" fill="#000" stroke="#000" stroke-width="0.45">TF model: 89.6%</text></g>
</g>
</svg>
</body></html>
